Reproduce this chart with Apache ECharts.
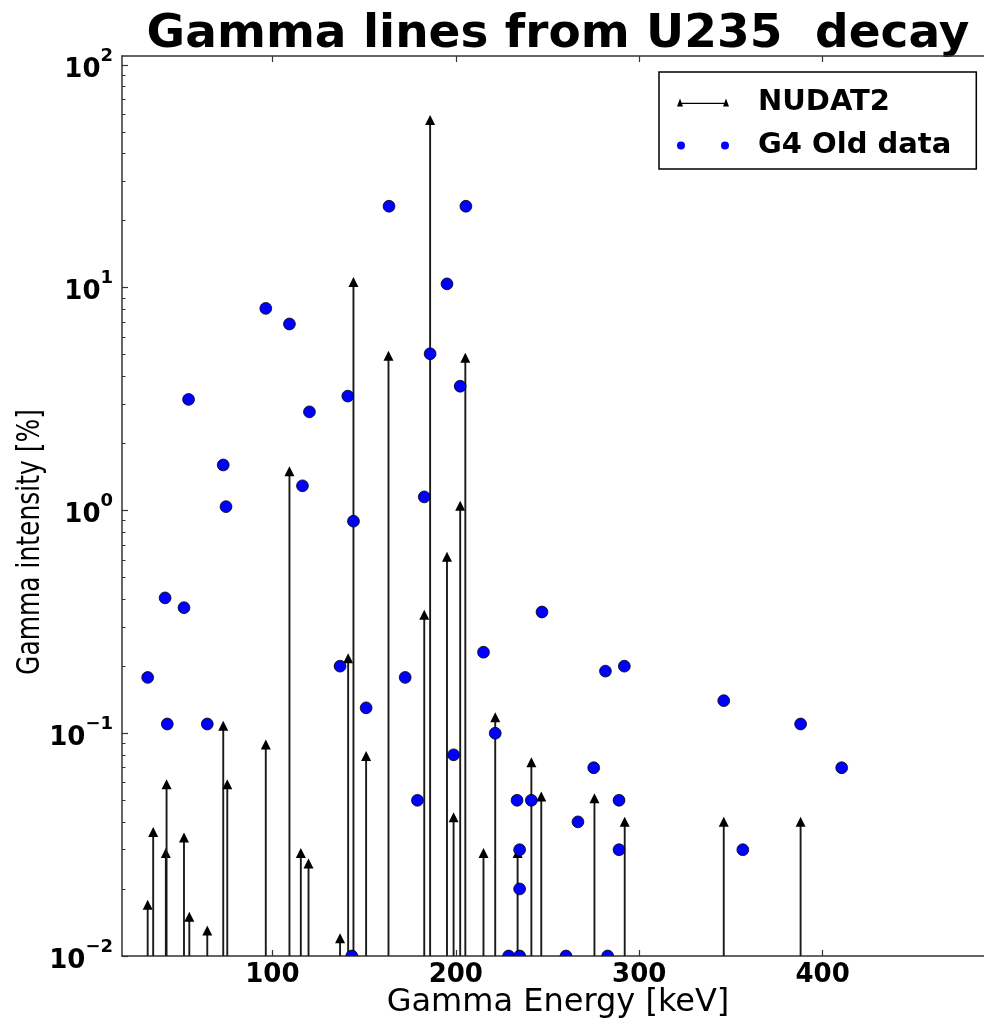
<!DOCTYPE html>
<html><head><meta charset="utf-8">
<script src="https://cdn.jsdelivr.net/npm/echarts@6/dist/echarts.min.js"></script>
<style>html,body{margin:0;padding:0;background:#fff}#c{width:984px;height:1020px}</style>
</head><body><div id="c"></div>
<script>
// NUDAT2 gamma lines (energy keV, intensity %)
const nudatEnergy = [32.0, 35.0, 41.9, 42.3, 51.8, 54.7, 64.5, 73.2, 75.4, 96.4, 109.3, 115.5, 119.7, 136.9, 141.3, 144.2, 151.1, 163.3, 182.8, 186.0, 195.2, 198.8, 202.4, 205.2, 215.1, 221.5, 233.7, 241.2, 246.6, 275.6, 292.1, 346.1, 388.0];
const nudatIntensity = [0.017, 0.036, 0.029, 0.059, 0.034, 0.015, 0.013, 0.108, 0.059, 0.089, 1.5, 0.029, 0.026, 0.012, 0.217, 10.6, 0.079, 4.95, 0.34, 56.5, 0.62, 0.042, 1.05, 4.85, 0.029, 0.118, 0.029, 0.074, 0.052, 0.051, 0.040, 0.040, 0.040];
// G4 old data points
const g4Energy = [32.0, 41.5, 42.7, 51.8, 54.3, 64.5, 73.2, 74.7, 96.4, 109.3, 116.4, 120.2, 136.9, 141.1, 143.3, 144.2, 151.1, 163.6, 172.4, 179.1, 182.8, 186.0, 195.2, 198.8, 202.4, 205.5, 215.1, 221.5, 228.8, 233.4, 234.8, 234.8, 234.8, 241.2, 247.0, 260.1, 266.6, 275.2, 281.6, 282.8, 289.0, 289.0, 291.9, 346.1, 356.5, 388.0, 410.4];
const g4Intensity = [0.178, 0.405, 0.11, 0.366, 3.15, 0.11, 1.60, 1.04, 8.07, 6.87, 1.29, 2.77, 0.2, 3.26, 0.01, 0.895, 0.13, 23.2, 0.178, 0.05, 1.15, 5.05, 10.4, 0.08, 3.61, 23.2, 0.231, 0.1, 0.01, 0.05, 0.03, 0.02, 0.01, 0.05, 0.35, 0.01, 0.04, 0.07, 0.19, 0.01, 0.05, 0.03, 0.2, 0.14, 0.03, 0.11, 0.07];
// axis ticks
const xTickValues = [100, 200, 300, 400];
const yMajorTicks = [0.01, 0.1, 1, 10, 100];
const yMinorTicks = [0.02, 0.03, 0.04, 0.05, 0.06, 0.07, 0.08, 0.09, 0.2, 0.3, 0.4, 0.5, 0.6, 0.7, 0.8, 0.9, 2, 3, 4, 5, 6, 7, 8, 9, 20, 30, 40, 50, 60, 70, 80, 90];

const X_MIN = 18, X_MAX = 488, Y_MIN = 0.01, Y_MAX = 109.6;
const FONT = "'DejaVu Sans'";
const nudatData = nudatEnergy.map((e, i) => [e, nudatIntensity[i]]);
const g4Data = g4Energy.map((e, i) => [e, g4Intensity[i]]);

const chart = echarts.init(document.getElementById('c'), null, {renderer: 'canvas'});
const spine = {color: '#333', width: 1.5};
chart.setOption({
  animation: false,
  backgroundColor: '#fff',
  grid: {left: 122, top: 56, right: 0, bottom: 64, containLabel: false, outerBoundsMode: 'none'},
  xAxis: [
    {type: 'value', min: X_MIN, max: X_MAX, position: 'bottom',
     axisLine: {show: true, onZero: false, lineStyle: spine},
     axisTick: {show: true, inside: true, length: 6, customValues: xTickValues, lineStyle: {color: '#333', width: 1.2}},
     axisLabel: {customValues: xTickValues, margin: 6, fontFamily: FONT, fontWeight: 'bold', fontSize: 26, color: '#000'},
     splitLine: {show: false}},
    {type: 'value', min: X_MIN, max: X_MAX, position: 'top',
     axisLine: {show: true, onZero: false, lineStyle: spine},
     axisTick: {show: true, inside: true, length: 6, customValues: xTickValues, lineStyle: {color: '#333', width: 1.2}},
     axisLabel: {show: false}, splitLine: {show: false}}
  ],
  yAxis: [
    {type: 'log', logBase: 10, min: Y_MIN, max: Y_MAX, position: 'left',
     axisLine: {show: true, onZero: false, lineStyle: spine},
     axisTick: {show: true, inside: true, length: 6, customValues: yMajorTicks, lineStyle: {color: '#333', width: 1.2}},
     axisLabel: {customValues: yMajorTicks, margin: 9,
       formatter: function (v) {
         const e = Math.round(Math.log10(v));
         return '{b|10}{s|' + (e < 0 ? '\u2212' + (-e) : String(e)) + '}';
       },
       rich: {
         b: {fontFamily: FONT, fontWeight: 'bold', fontSize: 26, color: '#000', lineHeight: 36, verticalAlign: 'bottom'},
         s: {fontFamily: FONT, fontWeight: 'bold', fontSize: 18, color: '#000', lineHeight: 18, verticalAlign: 'top'}
       }},
     splitLine: {show: false}},
    {type: 'log', logBase: 10, min: Y_MIN, max: Y_MAX, position: 'right', offset: -862,
     axisLine: {show: false},
     axisTick: {show: true, inside: false, length: 3.5, customValues: yMinorTicks, lineStyle: {color: '#333', width: 1}},
     axisLabel: {show: false}, splitLine: {show: false}}
  ],
  legend: {
    orient: 'vertical', left: 659, top: 72, padding: [16, 25, 9, 18], itemGap: 14,
    itemWidth: 52, itemHeight: 8, selectedMode: false,
    backgroundColor: '#fff', borderColor: '#000', borderWidth: 1.5, borderRadius: 0,
    textStyle: {fontFamily: FONT, fontWeight: 'bold', fontSize: 29, color: '#000', padding: [0, 0, 0, 24]},
    data: [
      {name: 'NUDAT2', icon: 'path://M0,8L3,0L6,8Z M46,8L49,0L52,8Z M3,4.2L49,4.2L49,5.6L3,5.6Z'},
      {name: 'G4 Old data', icon: 'path://M0,4A4,4,0,1,1,8,4A4,4,0,1,1,0,4Z M44,4A4,4,0,1,1,52,4A4,4,0,1,1,44,4Z'}
    ]
  },
  graphic: [
    {type: 'text', x: 558, y: 35, style: {text: 'Gamma lines from U235  decay', font: 'bold 47px ' + FONT, fill: '#000', align: 'center', verticalAlign: 'middle'}},
    {type: 'text', x: 558, y: 1003, style: {text: 'Gamma Energy [keV]', font: '32px ' + FONT, fill: '#000', align: 'center', verticalAlign: 'middle'}},
    {type: 'text', x: 31, y: 542, rotation: Math.PI / 2, scaleX: 0.78, style: {text: 'Gamma intensity [%]', font: '32px ' + FONT, fill: '#000', align: 'center', verticalAlign: 'middle'}}
  ],
  series: [
    {name: 'NUDAT2', type: 'custom', xAxisIndex: 0, yAxisIndex: 0, clip: true,
     itemStyle: {color: '#000'},
     encode: {x: 0, y: 1},
     data: nudatData,
     renderItem: function (params, api) {
       const top = api.coord([api.value(0), api.value(1)]);
       const base = api.coord([api.value(0), Y_MIN]);
       const h = 5, w = 5;
       return {type: 'group', children: [
         {type: 'line', shape: {x1: top[0], y1: base[1], x2: top[0], y2: top[1]}, style: {stroke: '#1a1a1a', lineWidth: 1.9}},
         {type: 'polygon', shape: {points: [[top[0], top[1] - h], [top[0] - w, top[1] + h], [top[0] + w, top[1] + h]]}, style: {fill: '#000'}}
       ]};
     }},
    {name: 'G4 Old data', type: 'custom', xAxisIndex: 0, yAxisIndex: 0, clip: true,
     itemStyle: {color: '#0000ff'},
     encode: {x: 0, y: 1},
     data: g4Data,
     renderItem: function (params, api) {
       const p = api.coord([api.value(0), api.value(1)]);
       return {type: 'circle', shape: {cx: p[0], cy: p[1], r: 5.9}, style: {fill: '#0000ff', stroke: '#000', lineWidth: 0.8}};
     }}
  ]
});
</script></body></html>
